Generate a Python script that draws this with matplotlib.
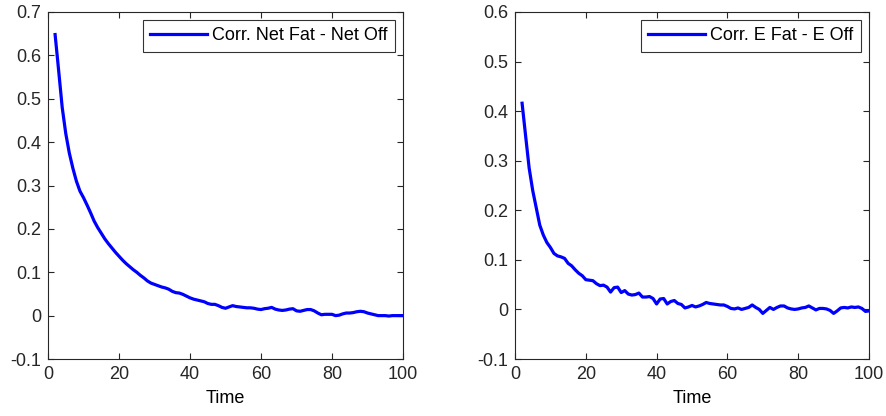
import matplotlib
matplotlib.use("Agg")
import matplotlib.pyplot as plt
import numpy as np

plt.rcParams['font.family'] = ['Liberation Sans', 'DejaVu Sans']

# time steps 2..100
time = list(range(2, 101))

net_corr = [0.648, 0.565, 0.48, 0.42, 0.375, 0.34, 0.31, 0.287, 0.272, 0.255,
            0.237, 0.218, 0.203, 0.19, 0.177, 0.166, 0.156, 0.146, 0.137, 0.128,
            0.12, 0.113, 0.106, 0.1, 0.093, 0.087, 0.08, 0.075, 0.072, 0.069,
            0.066, 0.064, 0.061, 0.056, 0.053, 0.052, 0.049, 0.045, 0.041, 0.038,
            0.036, 0.034, 0.032, 0.028, 0.026, 0.026, 0.023, 0.019, 0.017, 0.02,
            0.023, 0.021, 0.02, 0.019, 0.018, 0.018, 0.017, 0.015, 0.014, 0.016,
            0.017, 0.019, 0.015, 0.013, 0.012, 0.013, 0.015, 0.016, 0.011, 0.01,
            0.012, 0.014, 0.014, 0.011, 0.006, 0.002, 0.003, 0.003, 0.003, 0.0,
            0.001, 0.004, 0.006, 0.006, 0.007, 0.009, 0.01, 0.009, 0.006, 0.004,
            0.002, 0.0, 0.0, 0.0, -0.001, 0.0, 0.0, 0.0, 0.0]

e_corr = [0.416, 0.35, 0.285, 0.24, 0.205, 0.17, 0.15, 0.135, 0.125, 0.113,
          0.108, 0.106, 0.103, 0.093, 0.088, 0.08, 0.073, 0.068, 0.06, 0.059,
          0.058, 0.052, 0.048, 0.049, 0.045, 0.035, 0.044, 0.045, 0.034, 0.038,
          0.031, 0.029, 0.03, 0.033, 0.025, 0.025, 0.026, 0.022, 0.011, 0.021,
          0.022, 0.011, 0.016, 0.018, 0.012, 0.01, 0.003, 0.005, 0.008, 0.005,
          0.007, 0.01, 0.014, 0.012, 0.011, 0.01, 0.009, 0.009, 0.006, 0.002,
          0.001, 0.003, 0.0, 0.002, 0.004, 0.009, 0.004, 0.0, -0.008, -0.002,
          0.004, 0.0, 0.004, 0.007, 0.007, 0.003, 0.001, 0.0, 0.001, 0.003,
          0.004, 0.007, 0.003, -0.001, 0.002, 0.002, 0.001, -0.002, -0.008, -0.003,
          0.003, 0.004, 0.003, 0.005, 0.004, 0.005, 0.002, -0.004, -0.003]

labels = ["Corr. Net Fat - Net Off", "Corr. E Fat - E Off"]
ylims = [(-0.1, 0.7), (-0.1, 0.6)]

fig = plt.figure(figsize=(8.86, 4.16), dpi=100)
ax1 = fig.add_axes([48 / 886, 57 / 416, 355 / 886, 347 / 416])
ax2 = fig.add_axes([515 / 886, 57 / 416, 354 / 886, 347 / 416])

for ax, y, lab, yl in zip([ax1, ax2], [net_corr, e_corr], labels, ylims):
    ax.plot(time, y, color='#0000ff', lw=2.3, label=lab)
    ax.set_xlim(0, 100)
    ax.set_ylim(*yl)
    ax.set_xticks(np.arange(0, 101, 20))
    yt = np.round(np.arange(yl[0], yl[1] + 0.01, 0.1), 1)
    ax.set_yticks(yt)
    ax.set_yticklabels([f"{v:g}" for v in yt])
    ax.tick_params(direction='in', top=True, right=True, length=4, width=0.8,
                   labelsize=13, pad=5, colors='#262626')
    for s in ax.spines.values():
        s.set_linewidth(0.8)
        s.set_color('#262626')
    ax.set_xlabel("Time", fontsize=13, labelpad=5)
    leg = ax.legend(loc='upper right', fontsize=13, frameon=True, fancybox=False,
                    edgecolor='black', borderaxespad=0.45, handlelength=3.15,
                    handletextpad=0.3, borderpad=0.4)
    leg.get_frame().set_linewidth(0.8)

fig.savefig("out.png", dpi=100)
